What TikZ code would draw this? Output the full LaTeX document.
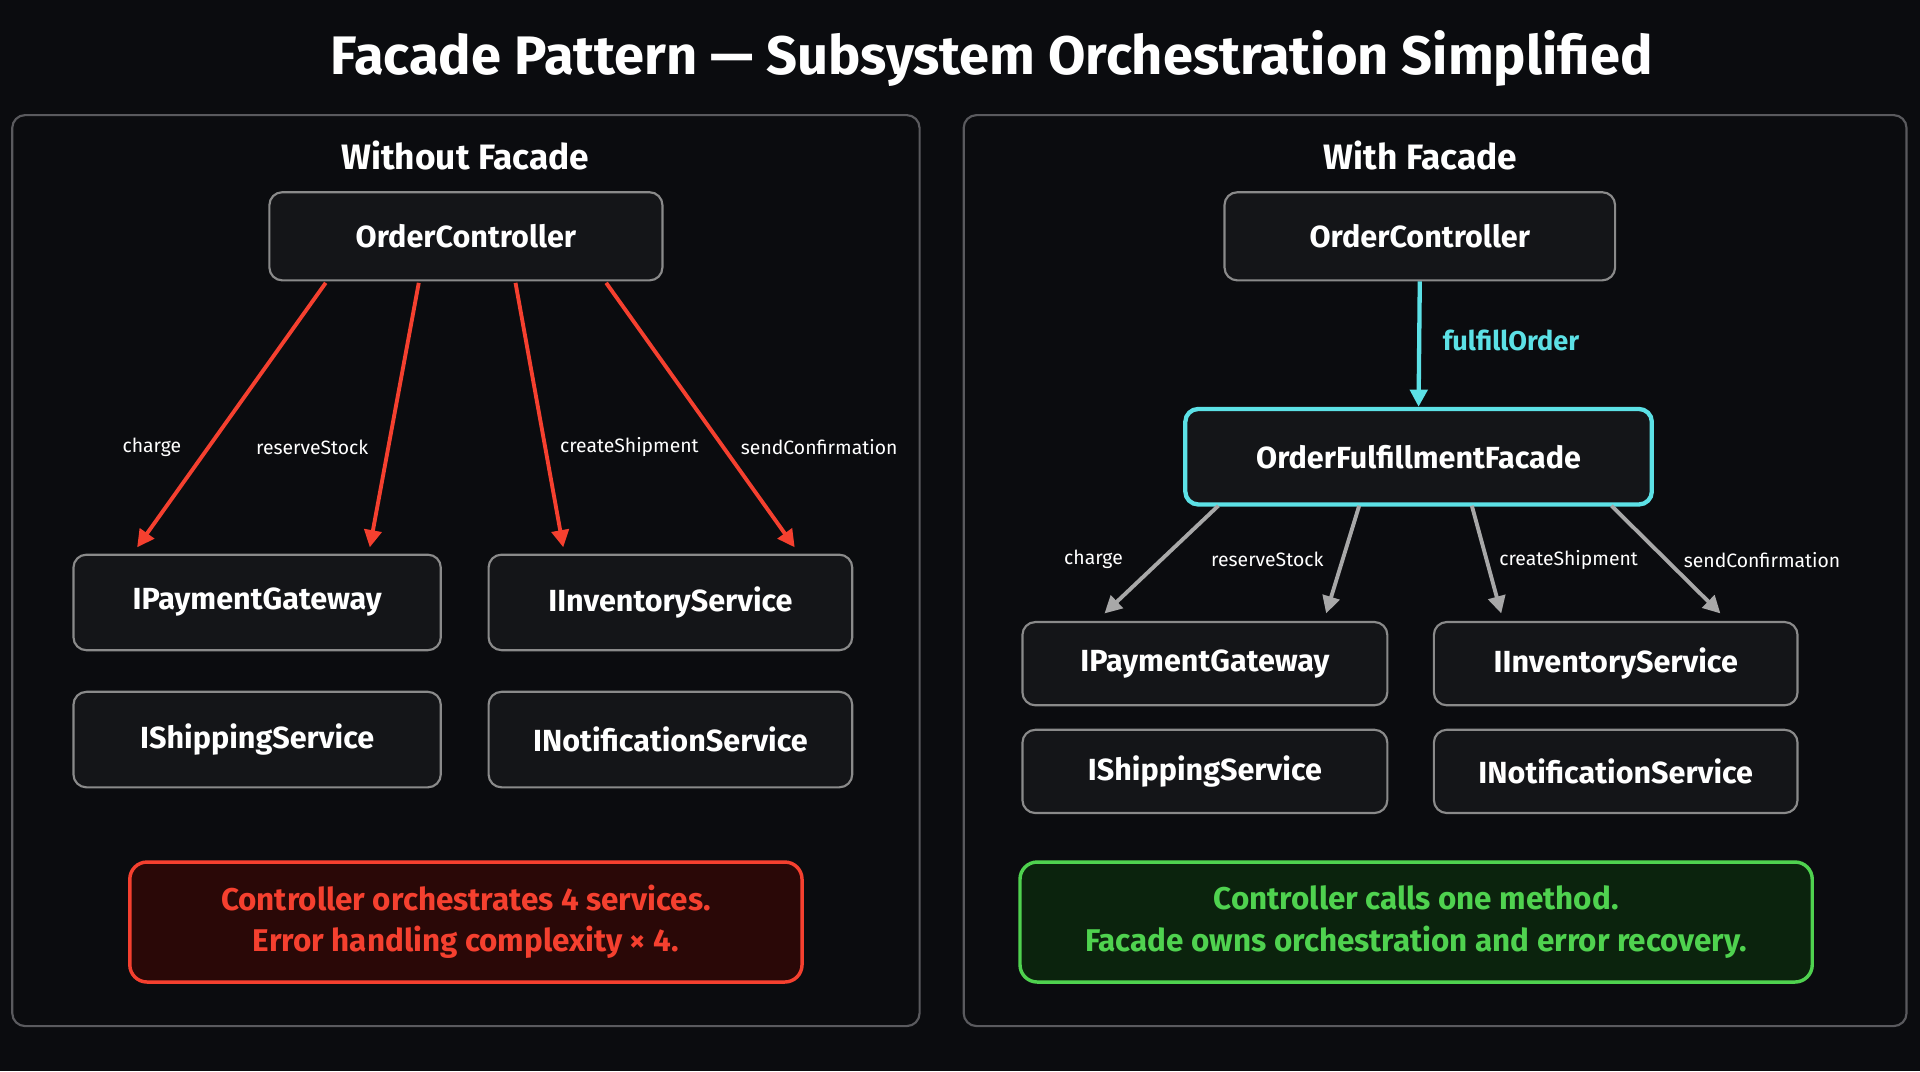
\documentclass[tikz,border=0pt]{standalone}
\usepackage{fontspec}
\setmainfont{Fira Sans}
\usetikzlibrary{arrows.meta,calc}
\definecolor{bg}{HTML}{0B0C0F}
\definecolor{boxf}{HTML}{141518}
\definecolor{boxd}{HTML}{8A8A8A}
\definecolor{pan}{HTML}{5A5A5E}
\definecolor{rd}{HTML}{F5402F}
\definecolor{rdf}{HTML}{2A0807}
\definecolor{cy}{HTML}{5CE1E6}
\definecolor{gr}{HTML}{4FD24F}
\definecolor{grf}{HTML}{0B230D}
\definecolor{ga}{HTML}{A8A8A8}
\begin{document}
\begin{tikzpicture}[x=0.1mm,y=-0.1mm,
 box/.style={draw=boxd,fill=boxf,rounded corners=3pt,line width=0.5pt,text=white,font=\fontsize{7.1}{9}\selectfont\bfseries,inner sep=0},
 panel/.style={draw=pan,rounded corners=3pt,line width=0.5pt},
 lbl/.style={text=white,font=\fontsize{4.5}{6}\selectfont},
 ttl/.style={text=white,font=\fontsize{8.2}{10}\selectfont\bfseries},
 ra/.style={draw=rd,line width=0.9pt,-{Triangle[length=4pt,width=4pt]}},
 gaa/.style={draw=ga,line width=0.9pt,-{Triangle[length=4pt,width=4pt]}},
]
\fill[bg] (0,0) rectangle (1568,875);
\useasboundingbox (0,0) rectangle (1568,875);
\node[text=white,font=\fontsize{12.6}{15}\selectfont\bfseries] (title) at (810,48) {Facade Pattern — Subsystem Orchestration Simplified};
\node[panel,minimum width=741*0.1mm,minimum height=744*0.1mm] (lp) at (380.5,466) {};
\node[panel,minimum width=770*0.1mm,minimum height=744*0.1mm] (rp) at (1172,466) {};
\node[ttl] (lt) at (380,127) {Without Facade};
\node[ttl] (rt) at (1160,127) {With Facade};
% left
\node[box,minimum width=32.1mm,minimum height=7.2mm] (oc) at (380.5,193) {OrderController};
\node[box,minimum width=30mm,minimum height=7.8mm] (pg) at (210,492) {IPaymentGateway};
\node[box,minimum width=29.7mm,minimum height=7.8mm] (is) at (547.5,492) {IInventoryService};
\node[box,minimum width=30mm,minimum height=7.8mm] (ss) at (210,604) {IShippingService};
\node[box,minimum width=29.7mm,minimum height=7.8mm] (ns) at (547.5,604) {INotificationService};
\node[draw=rd,fill=rdf,rounded corners=4pt,line width=0.8pt,minimum width=54.9mm,minimum height=9.8mm,text=rd,align=center,font=\fontsize{7.3}{9.6}\selectfont\bfseries] (rb) at (380.5,753) {Controller orchestrates 4 services.\\Error handling complexity × 4.};
\coordinate (a1) at (266,231); \coordinate (b1) at (112,447);
\coordinate (a2) at (342,231); \coordinate (b2) at (302,447);
\coordinate (a3) at (421,231); \coordinate (b3) at (460,447);
\coordinate (a4) at (495,231); \coordinate (b4) at (649,447);
\draw[ra] (a1) -- (b1); \draw[ra] (a2) -- (b2); \draw[ra] (a3) -- (b3); \draw[ra] (a4) -- (b4);
\node[lbl] (l1) at (124,365) {charge};
\node[lbl] (l2) at (255,365) {reserveStock};
\node[lbl] (l3) at (514,365) {createShipment};
\node[lbl] (l4) at (669,365) {sendConfirmation};
% right
\node[box,minimum width=31.9mm,minimum height=7.2mm] (oc2) at (1159.5,193) {OrderController};
\node[box,draw=cy,line width=1pt,minimum width=38.1mm,minimum height=7.8mm] (fc) at (1158.5,373) {OrderFulfillmentFacade};
\draw[draw=cy,line width=1pt,-{Triangle[length=4pt,width=4pt]}] (oc2.south) -- (fc.north);
\node[text=cy,font=\fontsize{6.3}{8}\selectfont\bfseries] (fo) at (1234,278) {fulfillOrder};
\node[box,minimum width=29.8mm,minimum height=6.8mm] (pg2) at (984,542) {IPaymentGateway};
\node[box,minimum width=29.7mm,minimum height=6.8mm] (is2) at (1319.5,542) {IInventoryService};
\node[box,minimum width=29.8mm,minimum height=6.8mm] (ss2) at (984,630) {IShippingService};
\node[box,minimum width=29.7mm,minimum height=6.8mm] (ns2) at (1319.5,630) {INotificationService};
\node[draw=gr,fill=grf,rounded corners=4pt,line width=0.8pt,minimum width=64.7mm,minimum height=9.8mm,text=gr,align=center,font=\fontsize{7.3}{9.6}\selectfont\bfseries] (gb) at (1156.5,753) {Controller calls one method.\\Facade owns orchestration and error recovery.};
\coordinate (c1) at (995,413); \coordinate (d1) at (902,501);
\coordinate (c2) at (1110,413); \coordinate (d2) at (1083,501);
\coordinate (c3) at (1202,413); \coordinate (d3) at (1226,501);
\coordinate (c4) at (1316,413); \coordinate (d4) at (1405,501);
\draw[gaa] (c1) -- (d1); \draw[gaa] (c2) -- (d2); \draw[gaa] (c3) -- (d3); \draw[gaa] (c4) -- (d4);
\node[lbl] (m1) at (893,457) {charge};
\node[lbl] (m2) at (1035,457) {reserveStock};
\node[lbl] (m3) at (1281,457) {createShipment};
\node[lbl] (m4) at (1439,457) {sendConfirmation};
\end{tikzpicture}
\end{document}
